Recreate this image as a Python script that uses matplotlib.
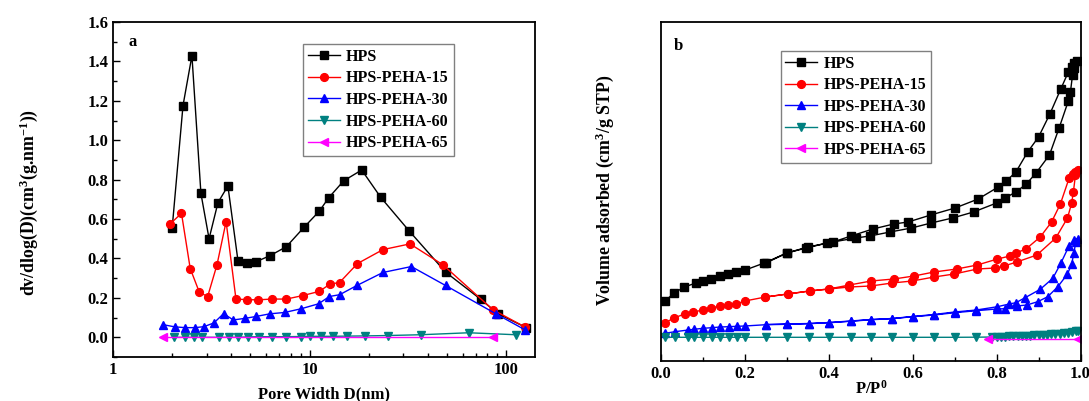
import matplotlib
matplotlib.use("Agg")
import matplotlib.pyplot as plt
from matplotlib.ticker import MultipleLocator, LogLocator, NullFormatter, FixedLocator, FixedFormatter

plt.rcParams['font.family'] = ['Liberation Serif', 'DejaVu Serif']
plt.rcParams['font.weight'] = 'bold'
plt.rcParams['mathtext.fontset'] = 'custom'
plt.rcParams['mathtext.rm'] = 'Liberation Serif:bold'
plt.rcParams['mathtext.bf'] = 'Liberation Serif:bold'
plt.rcParams['mathtext.default'] = 'rm'

# ---------------- Panel a: pore size distribution ----------------
labels = ["HPS", "HPS-PEHA-15", "HPS-PEHA-30", "HPS-PEHA-60", "HPS-PEHA-65"]

hps_D = [2.00, 2.27, 2.52, 2.80, 3.08, 3.42, 3.84, 4.32, 4.80, 5.36, 6.31, 7.62, 9.36, 11.2, 12.5,
         14.9, 18.4, 23.0, 32.0, 49.1, 74.3, 90.6, 126.4]
hps_v = [0.556, 1.176, 1.429, 0.730, 0.500, 0.684, 0.768, 0.389, 0.376, 0.384, 0.415, 0.460, 0.558,
         0.640, 0.708, 0.794, 0.849, 0.710, 0.541, 0.331, 0.192, 0.120, 0.049]

p15_D = [1.94, 2.23, 2.47, 2.75, 3.03, 3.38, 3.76, 4.22, 4.80, 5.45, 6.41, 7.62, 9.25, 11.2, 12.7,
         14.2, 17.5, 23.6, 32.4, 47.6, 85.5, 124.0]
p15_v = [0.573, 0.629, 0.349, 0.228, 0.207, 0.368, 0.587, 0.194, 0.191, 0.190, 0.194, 0.194, 0.212,
         0.233, 0.270, 0.278, 0.374, 0.445, 0.474, 0.368, 0.140, 0.053]

p30_D = [1.80, 2.06, 2.33, 2.61, 2.90, 3.26, 3.65, 4.09, 4.69, 5.36, 6.26, 7.46, 9.07, 11.1, 12.6,
         14.2, 17.4, 23.6, 32.9, 49.1, 89.0, 124.0]
p30_v = [0.064, 0.053, 0.049, 0.049, 0.054, 0.073, 0.120, 0.088, 0.096, 0.106, 0.119, 0.126, 0.145,
         0.170, 0.207, 0.216, 0.263, 0.329, 0.359, 0.263, 0.118, 0.039]

p60_D = [2.04, 2.32, 2.57, 2.84, 3.48, 3.88, 4.34, 4.85, 5.50, 6.44, 7.62, 9.00, 10.1, 11.4, 13.1,
         15.5, 19.2, 25.0, 36.8, 64.4, 111.6]
p60_v = [0.000, 0.000, 0.000, 0.000, 0.000, 0.000, 0.000, 0.002, 0.003, 0.003, 0.003, 0.004, 0.005,
         0.005, 0.005, 0.006, 0.007, 0.009, 0.013, 0.023, 0.013]

p65_D = [1.80, 85.5]
p65_v = [0.000, 0.000]

# ---------------- Panel b: N2 isotherms ----------------
hps_ads_p = [0.010, 0.031, 0.056, 0.083, 0.099, 0.119, 0.141, 0.159, 0.179, 0.201, 0.246, 0.300, 0.346,
             0.396, 0.464, 0.498, 0.546, 0.597, 0.644, 0.695, 0.745, 0.800, 0.820, 0.846, 0.871, 0.894,
             0.926, 0.949, 0.971, 0.976, 0.981, 0.985]
hps_ads_v = [60, 68, 74, 78, 80, 82, 85, 87, 89, 91, 98, 108, 113, 118, 123, 125, 129, 133, 138, 143,
             149, 158, 163, 169, 177, 188, 206, 233, 260, 269, 286, 293]
hps_des_p = [0.991, 0.985, 0.979, 0.971, 0.953, 0.927, 0.900, 0.874, 0.846, 0.823, 0.804, 0.756, 0.701,
             0.643, 0.589, 0.555, 0.505, 0.453, 0.410, 0.350, 0.300, 0.250]
hps_des_v = [300, 298, 294, 289, 272, 247, 224, 209, 189, 180, 174, 162, 153, 146, 139, 137, 132, 125,
             119, 114, 108, 98]

p15_ads_p = [0.010, 0.030, 0.057, 0.077, 0.100, 0.119, 0.141, 0.159, 0.179, 0.200, 0.249, 0.302, 0.354,
             0.400, 0.449, 0.500, 0.551, 0.599, 0.651, 0.699, 0.754, 0.797, 0.818, 0.848, 0.896, 0.941,
             0.969, 0.979, 0.983, 0.988]
p15_ads_v = [38, 43, 47, 49, 51, 53, 55, 56, 57, 60, 64, 67, 70, 72, 74, 75, 78, 80, 84, 87, 92, 93, 95,
             99, 106, 123, 143, 158, 169, 186]
p15_des_p = [0.993, 0.988, 0.981, 0.973, 0.952, 0.931, 0.904, 0.870, 0.846, 0.832, 0.802, 0.754, 0.705,
             0.651, 0.603, 0.555, 0.501, 0.449, 0.400, 0.354, 0.302, 0.249]
p15_des_v = [191, 189, 187, 183, 157, 139, 124, 112, 108, 105, 102, 96, 92, 89, 85, 82, 80, 76, 72, 70,
             67, 64]

p30_ads_p = [0.010, 0.033, 0.065, 0.079, 0.100, 0.121, 0.141, 0.161, 0.181, 0.200, 0.250, 0.300, 0.352,
             0.401, 0.452, 0.501, 0.551, 0.600, 0.651, 0.700, 0.752, 0.800, 0.820, 0.848, 0.872, 0.898,
             0.922, 0.946, 0.969, 0.979, 0.984, 0.989]
p30_ads_v = [27.7, 29.3, 31.0, 31.7, 32.7, 33.3, 34.0, 34.3, 34.7, 35.0, 36.3, 36.7, 37.3, 38.3, 39.7,
             41.3, 42.3, 44.3, 46.0, 48.3, 50.3, 52.0, 52.3, 55.0, 56.0, 59.3, 64.3, 74.3, 87.0, 97.0,
             107.7, 119.3]
p30_des_p = [0.993, 0.985, 0.973, 0.953, 0.934, 0.904, 0.868, 0.846, 0.830, 0.802, 0.752, 0.700, 0.651,
             0.600, 0.551, 0.501, 0.452, 0.401, 0.352, 0.300, 0.250]
p30_des_v = [122.3, 121.0, 115.3, 97.7, 82.7, 71.7, 63.3, 58.3, 57.0, 54.3, 51.0, 49.0, 46.5, 44.5, 42.5,
             41.5, 40.0, 38.5, 37.5, 37.0, 36.5]

p60_iso_p = [0.010, 0.033, 0.065, 0.079, 0.100, 0.121, 0.141, 0.161, 0.181, 0.200, 0.250, 0.300, 0.352,
             0.401, 0.452, 0.501, 0.551, 0.600, 0.651, 0.700, 0.752, 0.790, 0.800, 0.810, 0.820, 0.830,
             0.840, 0.850, 0.860, 0.870, 0.880, 0.890, 0.900, 0.910, 0.920, 0.930, 0.940, 0.950, 0.960,
             0.970, 0.980, 0.990, 0.995]
p60_iso_v = [23.7, 23.7, 23.7, 23.7, 23.7, 23.7, 23.7, 23.7, 23.7, 23.7, 23.7, 23.7, 23.7, 23.7, 23.7,
             23.7, 23.7, 23.7, 23.7, 23.7, 23.8, 24.0, 24.2, 24.3, 24.4, 24.6, 24.7, 24.9, 25.0, 25.2,
             25.4, 25.6, 25.8, 26.0, 26.3, 26.6, 27.0, 27.4, 27.8, 28.3, 28.9, 29.6, 30.5]

p65_iso_p = [0.780, 0.995]
p65_iso_v = [22.5, 22.5]

colors = ["black", "#FF0000", "#0000FF", "#008080", "#FF00FF"]
markers = ["s", "o", "^", "v", "<"]

fig = plt.figure(figsize=(10.89, 4.01), dpi=100)
axa = fig.add_axes([113 / 1089, 1 - 357 / 401, 422 / 1089, 335 / 401])
axb = fig.add_axes([661 / 1089, 1 - 361 / 401, 419.5 / 1089, 339 / 401])

ms = 5.6
series_a = [(hps_D, hps_v), (p15_D, p15_v), (p30_D, p30_v), (p60_D, p60_v), (p65_D, p65_v)]
for (x, y), c, m, lab in zip(series_a, colors, markers, labels):
    axa.plot(x, y, color=c, marker=m, markersize=ms, linewidth=1.0, label=lab)

axa.set_xscale('log')
axa.set_xlim(1, 140)
axa.set_ylim(-0.1, 1.6)
axa.yaxis.set_major_locator(MultipleLocator(0.2))
axa.yaxis.set_minor_locator(MultipleLocator(0.1))
axa.xaxis.set_major_locator(FixedLocator([1, 10, 100]))
axa.xaxis.set_major_formatter(FixedFormatter(["1", "10", "100"]))
axa.xaxis.set_minor_locator(LogLocator(base=10, subs=range(2, 10)))
axa.xaxis.set_minor_formatter(NullFormatter())
axa.set_xlabel("Pore Width D(nm)", fontsize=12, fontweight='bold')
axa.set_ylabel(r"dv/dlog(D)(cm$^{3}$(g.nm$^{-1}$))", fontsize=12.8, fontweight='bold')
axa.yaxis.set_label_coords(-0.174, 0.46)
axa.xaxis.set_label_coords(0.5, -0.087)
axa.text(0.047, 0.94, "a", transform=axa.transAxes, fontsize=12, fontweight='bold', va='center', ha='center')
axa.legend(loc='upper left', bbox_to_anchor=(0.45, 0.934), borderaxespad=0, fancybox=False,
           edgecolor='#808080', fontsize=11.5, handlelength=2.0, labelspacing=0.35, borderpad=0.3,
           handletextpad=0.4, framealpha=1)

iso_sets = [(hps_ads_p + hps_des_p, hps_ads_v + hps_des_v),
            (p15_ads_p + p15_des_p, p15_ads_v + p15_des_v),
            (p30_ads_p + p30_des_p, p30_ads_v + p30_des_v),
            (p60_iso_p, p60_iso_v),
            (p65_iso_p, p65_iso_v)]
for (x, y), c, m, lab in zip(iso_sets, colors, markers, labels):
    axb.plot(x, y, color=c, marker=m, markersize=ms, linewidth=1.0, label=lab)

axb.set_xlim(0, 1.0)
axb.set_ylim(0, 339)
axb.xaxis.set_major_locator(MultipleLocator(0.2))
axb.xaxis.set_minor_locator(MultipleLocator(0.1))
axb.xaxis.set_major_formatter(matplotlib.ticker.FormatStrFormatter('%.1f'))
axb.set_yticks([])
axb.set_xlabel(r"P/P$^{0}$", fontsize=12, fontweight='bold')
axb.set_ylabel(r"Volume adsorbed (cm$^{3}$/g STP)", fontsize=12.8, fontweight='bold')
axb.yaxis.set_label_coords(-0.107, 0.503)
axb.xaxis.set_label_coords(0.5, -0.056)
axb.text(0.041, 0.929, "b", transform=axb.transAxes, fontsize=12, fontweight='bold', va='center', ha='center')
axb.legend(loc='upper left', bbox_to_anchor=(0.285, 0.915), borderaxespad=0, fancybox=False,
           edgecolor='#808080', fontsize=11.5, handlelength=2.0, labelspacing=0.35, borderpad=0.3,
           handletextpad=0.4, framealpha=1)

for ax in (axa, axb):
    for s in ax.spines.values():
        s.set_linewidth(1.3)
    ax.tick_params(which='major', direction='in', length=5, width=1.0, labelsize=12, top=False, right=False)
    ax.tick_params(which='minor', direction='in', length=3, width=1.0, top=False, right=False)
    for t in ax.get_xticklabels() + ax.get_yticklabels():
        t.set_fontweight('bold')

fig.savefig("out.png", dpi=100)
